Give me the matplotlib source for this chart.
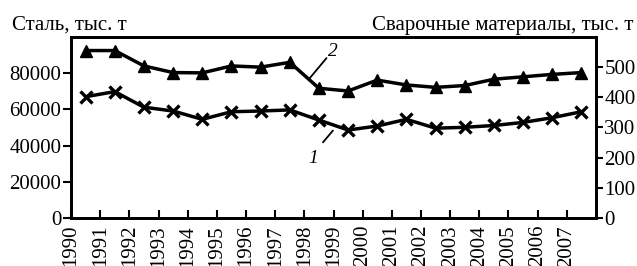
import matplotlib
matplotlib.use("Agg")
import matplotlib.pyplot as plt
import numpy as np

plt.rcParams['font.family'] = ['Liberation Serif', 'DejaVu Serif']

years = list(range(1990, 2008))
year_labels = [str(y) for y in range(1990, 2008)]
# 1: steel, thousand t (left axis)
steel = [67000, 69800, 61200, 59100, 54500, 58700, 59100, 59700, 54100,
         48600, 50800, 54500, 49600, 50100, 51100, 52800, 55400, 58700]
# 2: welding materials, thousand t (right axis)
welding = [555, 555, 504, 482, 481, 504, 500, 516, 430,
           421, 457, 441, 433, 439, 460, 468, 476, 482]
left_ticks = [0, 20000, 40000, 60000, 80000]
right_ticks = [0, 100, 200, 300, 400, 500]

fig = plt.figure(figsize=(6.37, 2.66), dpi=100)
ax = fig.add_axes([0.1115, 0.1805, 0.8241, 0.6805])
ax2 = ax.twinx()

x = np.array(years) + 0.5
ax.plot(x, steel, color='black', lw=2.5, marker='x', ms=9, mew=2.4, zorder=3)
ax2.plot(x, welding, color='black', lw=2.5, marker='^', ms=8.5, zorder=3)

ax.set_xlim(1990, 2008)
ax.set_ylim(0, 100000)
ax2.set_ylim(0, 600)

ax.set_xticks(years)
ax.set_xticklabels(year_labels, rotation=90, fontsize=15)
ax.tick_params(axis='x', direction='in', length=6, width=1.5, pad=5)
ax.set_yticks(left_ticks)
ax.set_yticklabels([str(v) for v in left_ticks], fontsize=15)
ax.tick_params(axis='y', direction='out', length=6, width=1.5, pad=1)
ax2.set_yticks(right_ticks)
ax2.set_yticklabels([str(v) for v in right_ticks], fontsize=15)
ax2.tick_params(axis='y', direction='out', length=5, width=1.5, pad=1)

for a in (ax, ax2):
    for s in a.spines.values():
        s.set_linewidth(2)

fig.text(12/637, 1 - 30/266, 'Сталь, тыс. т', fontsize=15, ha='left', va='baseline')
fig.text(633/637, 1 - 30/266, 'Сварочные материалы, тыс. т', fontsize=15,
         ha='right', va='baseline')

# labels "1" and "2" with leader lines
ax2.annotate('', xy=(1998.19, 464), xytext=(1998.76, 530),
             arrowprops=dict(arrowstyle='-', color='black', lw=1.3,
                             shrinkA=0, shrinkB=0))
ax2.text(1998.98, 552, '2', fontsize=14, fontstyle='italic', ha='center', va='center')
ax.annotate('', xy=(1998.98, 48300), xytext=(1998.64, 41800),
            arrowprops=dict(arrowstyle='-', color='black', lw=1.3,
                            shrinkA=0, shrinkB=0))
ax.text(1998.29, 33100, '1', fontsize=14, fontstyle='italic', ha='center', va='center')

fig.savefig('out.png', dpi=100)
